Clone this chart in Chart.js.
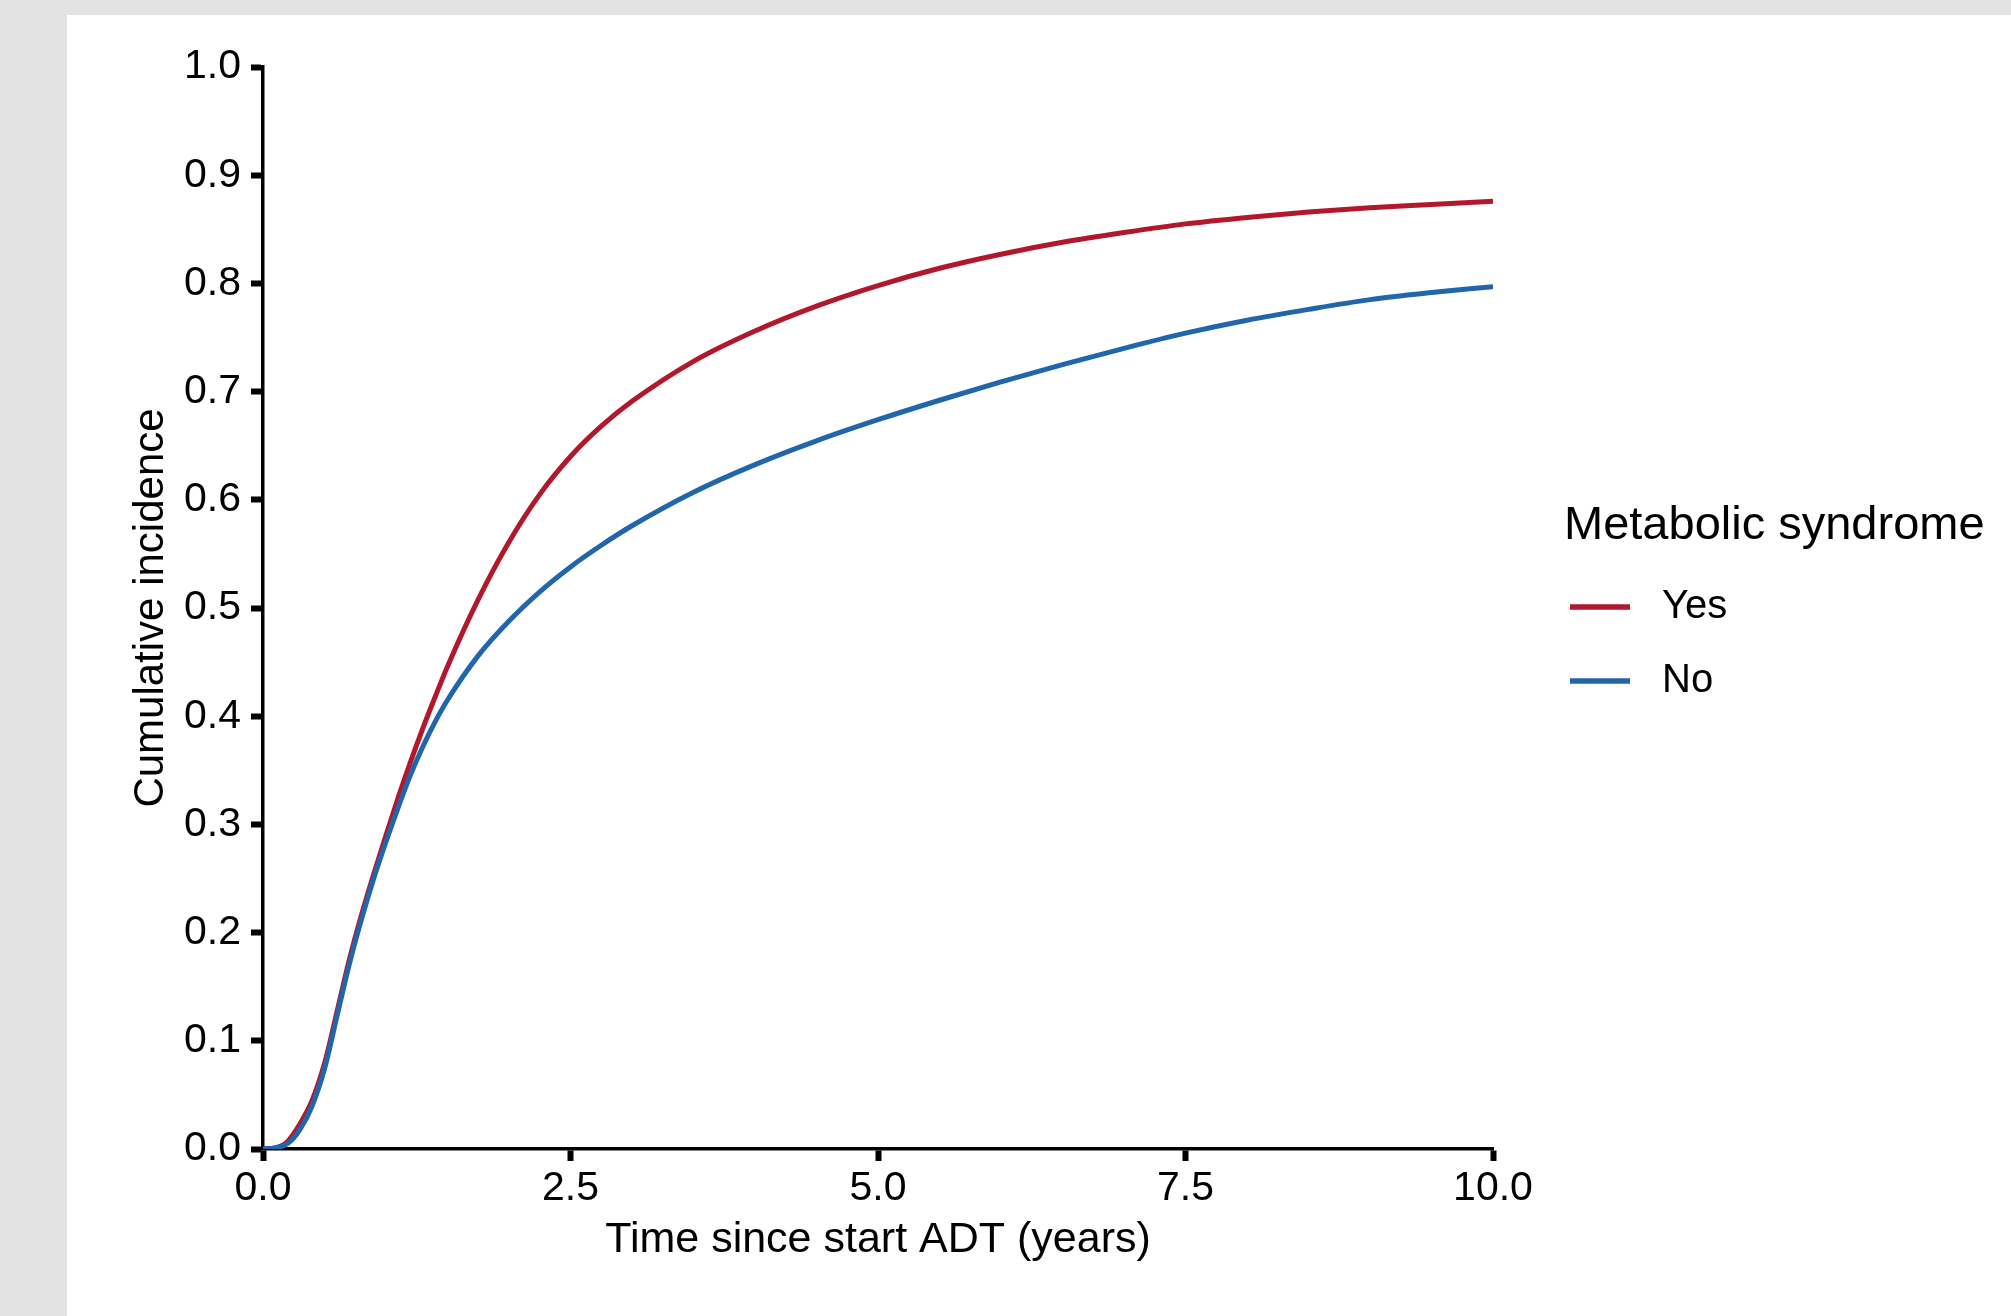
<!DOCTYPE html>
<html>
<head>
<meta charset="utf-8">
<script src="https://cdn.jsdelivr.net/npm/chart.js@4.4.1/dist/chart.umd.min.js"></script>
<style>
  html, body { margin: 0; padding: 0; }
  body { width: 2011px; height: 1316px; background: #e3e3e3; overflow: hidden; }
  #panel { position: absolute; left: 67px; top: 15px; width: 1944px; height: 1301px; background: #fff; }
</style>
</head>
<body>
<div id="panel"><canvas id="chart"></canvas></div>
<script>
// data
const years = [0, 0.1, 0.2, 0.3, 0.4, 0.5, 0.6, 0.7, 0.8, 0.9, 1.0, 1.1, 1.2, 1.3, 1.4, 1.5, 1.75, 2.0, 2.25, 2.5, 2.75, 3.0, 3.5, 4.0, 4.5, 5.0, 5.5, 6.0, 6.5, 7.0, 7.5, 8.0, 8.5, 9.0, 9.5, 10.0];
const metsYes = [0, 0.001, 0.007, 0.023, 0.045, 0.079, 0.126, 0.174, 0.216, 0.254, 0.290, 0.325, 0.358, 0.389, 0.418, 0.446, 0.508, 0.561, 0.605, 0.640, 0.668, 0.691, 0.728, 0.756, 0.779, 0.798, 0.814, 0.827, 0.838, 0.847, 0.855, 0.861, 0.866, 0.870, 0.873, 0.876];
const metsNo = [0, 0.001, 0.005, 0.018, 0.040, 0.074, 0.122, 0.170, 0.212, 0.250, 0.284, 0.316, 0.346, 0.372, 0.395, 0.415, 0.456, 0.488, 0.515, 0.538, 0.558, 0.576, 0.607, 0.6325, 0.6545, 0.674, 0.692, 0.709, 0.725, 0.740, 0.754, 0.766, 0.776, 0.785, 0.7915, 0.797];
const groupLabels = ["Yes", "No"];
const legendTitle = "Metabolic syndrome";

const FONT = '"Liberation Sans", Arial, sans-serif';

function points(vals) {
  return years.map((t, i) => ({ x: t, y: vals[i] }));
}

// legend on the right, drawn like the ggplot one
const sideLegend = {
  id: "sideLegend",
  afterDraw(chart) {
    const ctx = chart.ctx;
    ctx.save();
    ctx.fillStyle = "#000";
    ctx.textBaseline = "middle";
    ctx.textAlign = "left";
    ctx.font = "47px " + FONT;
    ctx.fillText(legendTitle, 1497, 511);
    ctx.font = "40px " + FONT;
    chart.data.datasets.forEach((ds, i) => {
      let y = 592 + i * 74;
      ctx.strokeStyle = ds.borderColor;
      ctx.lineWidth = 5.5;
      ctx.beginPath();
      ctx.moveTo(1503, y);
      ctx.lineTo(1563, y);
      ctx.stroke();
      ctx.fillText(ds.label, 1595, y);
    });
    ctx.restore();
  },
};

new Chart(document.getElementById("chart"), {
  type: "line",
  data: {
    datasets: [
      { label: groupLabels[0], data: points(metsYes), borderColor: "#b2182b", order: 1 },
      { label: groupLabels[1], data: points(metsNo), borderColor: "#2166ac", order: 0 },
    ],
  },
  options: {
    responsive: true,
    maintainAspectRatio: false,
    animation: false,
    layout: { padding: { top: 52, right: 518, left: 0, bottom: 0 } },
    elements: {
      point: { radius: 0 },
      line: { borderWidth: 5, cubicInterpolationMode: "monotone", fill: false },
    },
    plugins: { legend: { display: false }, tooltip: { enabled: false } },
    scales: {
      x: {
        type: "linear",
        min: 0,
        max: 10,
        afterFit(scale) { scale.height = 167; },
        ticks: {
          stepSize: 2.5,
          padding: 3,
          color: "#000",
          font: { family: FONT, size: 41 },
          callback: (v) => v.toFixed(1),
        },
        grid: { drawOnChartArea: false, tickLength: 12, tickWidth: 6, tickColor: "#000" },
        border: { display: true, color: "#000", width: 3.5 },
        title: {
          display: true,
          text: "Time since start ADT (years)",
          color: "#000",
          font: { family: FONT, size: 43 },
          padding: { top: 0, bottom: 50 },
        },
      },
      y: {
        min: 0,
        max: 1,
        afterFit(scale) { scale.width = 196; },
        ticks: {
          stepSize: 0.1,
          padding: 10,
          color: "#000",
          font: { family: FONT, size: 41 },
          callback: (v) => v.toFixed(1),
        },
        grid: { drawOnChartArea: false, tickLength: 12, tickWidth: 6, tickColor: "#000" },
        border: { display: true, color: "#000", width: 3.5 },
        title: {
          display: true,
          text: "Cumulative incidence",
          color: "#000",
          font: { family: FONT, size: 42 },
          padding: { top: 59, bottom: 0 },
        },
      },
    },
  },
  plugins: [sideLegend],
});
</script>
</body>
</html>
